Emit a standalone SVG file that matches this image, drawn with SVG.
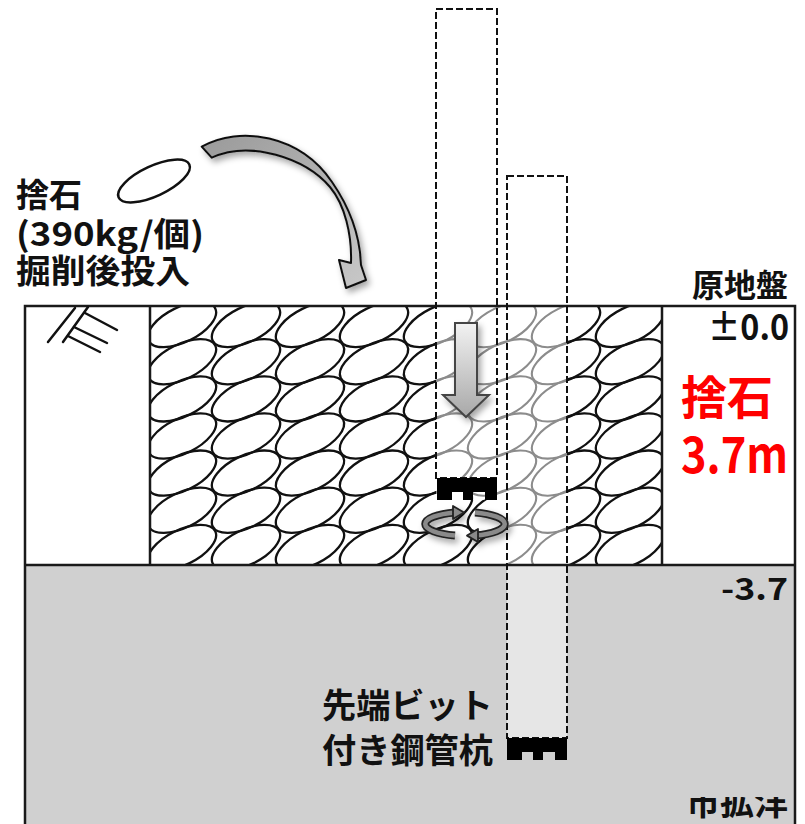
<svg xmlns="http://www.w3.org/2000/svg" xmlns:xlink="http://www.w3.org/1999/xlink" width="805" height="824" viewBox="0 0 805 824">
  <style>
    .frame { fill: none; stroke: #1a1a1a; stroke-width: 2.5; }
    .pile { fill: none; stroke: #111; stroke-width: 2; stroke-dasharray: 7 3; }
    .lbl { font-family: "Noto Sans CJK JP", "Noto Sans", sans-serif; font-weight: 700; fill: #111; }
    .red { font-family: "Noto Sans CJK JP", "Noto Sans", sans-serif; font-weight: 700; fill: #ff0000; }
    .hatch { stroke: #111; stroke-width: 2.5; stroke-linecap: round; }
  </style>
  <defs>
    <!-- one rubble stone, tilted -->
    <ellipse id="rock" cx="0" cy="0" rx="37" ry="17.5" transform="rotate(-26)" fill="none"/>
    <g id="rockRow">
      <use xlink:href="#rock" x="182" y="0"/>
      <use xlink:href="#rock" x="246" y="0"/>
      <use xlink:href="#rock" x="310" y="0"/>
      <use xlink:href="#rock" x="374" y="0"/>
      <use xlink:href="#rock" x="438" y="0"/>
      <use xlink:href="#rock" x="502" y="0"/>
      <use xlink:href="#rock" x="566" y="0"/>
      <use xlink:href="#rock" x="630" y="0"/>
    </g>
    <g id="rubble">
      <use xlink:href="#rockRow" y="324.6"/>
      <use xlink:href="#rockRow" y="361.7"/>
      <use xlink:href="#rockRow" y="398.9"/>
      <use xlink:href="#rockRow" y="436.0"/>
      <use xlink:href="#rockRow" y="473.1"/>
      <use xlink:href="#rockRow" y="510.3"/>
      <use xlink:href="#rockRow" y="547.4"/>
    </g>
    <!-- rubble layer outside the pile paths -->
    <clipPath id="clipSolid">
      <path clip-rule="evenodd" d="M150,306 H662 V565 H150 Z M436,306 V500 H497 V565 H567 V306 Z"/>
    </clipPath>
    <!-- rubble layer crossed by the piles -->
    <clipPath id="clipFaded">
      <path d="M436,306 V500 H497 V565 H567 V306 Z"/>
    </clipPath>
    <clipPath id="clipFoot">
      <rect x="600" y="797" width="200" height="27"/>
    </clipPath>
    <!-- drill bit at the pile tip -->
    <path id="bit" d="M0,0 H60 V22 H48 V14 H36 V22 H26 V14 H15 V22 H0 Z" fill="#000"/>
    <linearGradient id="gArc" x1="0" y1="0" x2="1" y2="1">
      <stop offset="0" stop-color="#9a9a9a"/>
      <stop offset="1" stop-color="#c8c8c8"/>
    </linearGradient>
    <linearGradient id="gDown" x1="0" y1="0" x2="0" y2="1">
      <stop offset="0" stop-color="#f2f2f2"/>
      <stop offset="1" stop-color="#a8a8a8"/>
    </linearGradient>
    <filter id="shadow" x="-30%" y="-30%" width="160%" height="160%">
      <feDropShadow dx="3" dy="4" stdDeviation="3" flood-color="#000" flood-opacity="0.35"/>
    </filter>
  </defs>

  <rect x="0" y="0" width="805" height="824" fill="#fff"/>

  <!-- bearing stratum below -3.7 -->
  <g id="stratum">
    <rect x="25" y="565" width="770" height="259" fill="#d0d0d0"/>
    <rect x="507" y="565" width="60" height="173" fill="#e6e6e6"/>
  </g>

  <!-- rubble fill -->
  <g id="rubble-fill">
    <use xlink:href="#rubble" clip-path="url(#clipSolid)" stroke="#111" stroke-width="2.3"/>
    <use xlink:href="#rubble" clip-path="url(#clipFaded)" stroke="#8c8c8c" stroke-width="2.1"/>
  </g>

  <!-- ground frame -->
  <g id="frame">
    <path class="frame" d="M25,824 V306 H795 V824"/>
    <line class="frame" x1="25" y1="565" x2="795" y2="565" stroke-width="3"/>
    <line class="frame" x1="150" y1="306" x2="150" y2="565"/>
    <line class="frame" x1="662" y1="306" x2="662" y2="565"/>
  </g>

  <!-- ground surface symbol -->
  <g id="ground-symbol">
    <line class="hatch" x1="48" y1="342" x2="75" y2="308"/>
    <line class="hatch" x1="63" y1="342" x2="88" y2="307"/>
    <line class="hatch" x1="85" y1="313" x2="117" y2="330"/>
    <line class="hatch" x1="74" y1="327" x2="107" y2="343"/>
    <line class="hatch" x1="68" y1="336" x2="100" y2="352"/>
  </g>

  <!-- pile in its upper position -->
  <g id="pile-upper">
    <rect class="pile" x="436" y="9" width="61" height="469"/>
    <use xlink:href="#bit" x="437" y="478"/>
  </g>

  <!-- pile at the bearing stratum -->
  <g id="pile-lower">
    <rect class="pile" x="507" y="176" width="60" height="562"/>
    <use xlink:href="#bit" x="507" y="738"/>
  </g>

  <!-- falling stone -->
  <g id="stone">
    <ellipse cx="154" cy="181" rx="39" ry="15" transform="rotate(-25 154 181)" fill="#fff" stroke="#111" stroke-width="2.5"/>
  </g>

  <!-- connectors: placement arc, press-in arrow, rotation -->
  <g id="connectors">
    <path filter="url(#shadow)" fill="url(#gArc)" stroke="#111" stroke-width="2" stroke-linejoin="round"
      d="M201.7,146.7 C240,125 300,135 332,182 C350,208 360,235 361,265 L366,280 L346,288 L339,260 L351,263 C352,235 345,205 330,187 C305,158 250,140 211.7,157.7 Z"/>
    <path filter="url(#shadow)" fill="url(#gDown)" stroke="#444" stroke-width="2" stroke-linejoin="miter"
      d="M455,323 H477 V395 H489 L466,417 L443,395 H455 Z"/>
    <g filter="url(#shadow)">
      <path d="M455,535.6 A40,12 0 0 1 455,512.4" fill="none" stroke="#222" stroke-width="8"/>
      <path d="M455,535.6 A40,12 0 0 1 455,512.4" fill="none" stroke="#8a8a8a" stroke-width="4.5"/>
      <path d="M475,512.4 A40,12 0 0 1 475,535.6" fill="none" stroke="#222" stroke-width="8"/>
      <path d="M475,512.4 A40,12 0 0 1 475,535.6" fill="none" stroke="#8a8a8a" stroke-width="4.5"/>
      <path d="M453,506 L464,512.5 L453,519 Z" fill="#8a8a8a" stroke="#222" stroke-width="1.8" stroke-linejoin="round"/>
      <path d="M478,529 L467,535.6 L478,542 Z" fill="#8a8a8a" stroke="#222" stroke-width="1.8" stroke-linejoin="round"/>
    </g>
  </g>

  <!-- labels -->
  <g id="labels">
    <text class="lbl" x="16" y="207" font-size="33">捨石</text>
    <text class="lbl" x="16" y="246" font-size="33" textLength="188" lengthAdjust="spacingAndGlyphs">(390kg/個)</text>
    <text class="lbl" x="16" y="283" font-size="33" textLength="174" lengthAdjust="spacingAndGlyphs">掘削後投入</text>
    <text class="lbl" x="788" y="297" font-size="32" text-anchor="end">原地盤</text>
    <text class="lbl" x="708" y="340" font-size="35" font-weight="400" textLength="81" lengthAdjust="spacingAndGlyphs">±0.0</text>
    <text class="red" x="681" y="414" font-size="46">捨石</text>
    <text class="red" x="681" y="473" font-size="50" textLength="107" lengthAdjust="spacingAndGlyphs">3.7m</text>
    <text class="lbl" x="721" y="600" font-size="31" font-weight="400" textLength="67" lengthAdjust="spacingAndGlyphs">-3.7</text>
    <text class="lbl" x="322" y="718" font-size="34" textLength="171" lengthAdjust="spacingAndGlyphs">先端ビット</text>
    <text class="lbl" x="322" y="763" font-size="34" textLength="171" lengthAdjust="spacingAndGlyphs">付き鋼管杭</text>
    <text class="lbl" x="686" y="815" font-size="34" clip-path="url(#clipFoot)" textLength="102" lengthAdjust="spacingAndGlyphs">市拡洋</text>
  </g>
</svg>
